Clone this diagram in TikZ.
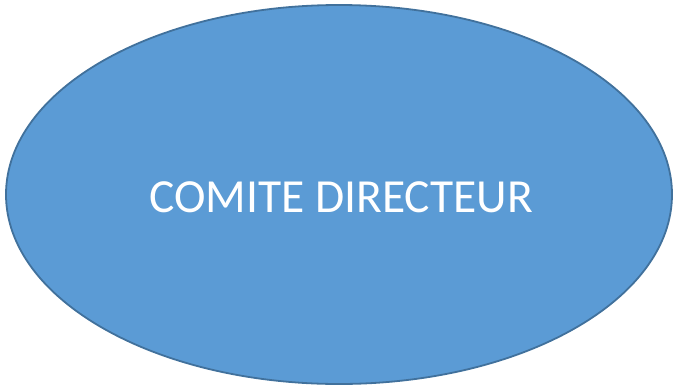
\documentclass[tikz,border=0pt]{standalone}
\usepackage{fontspec}
\setmainfont{Carlito}
\usetikzlibrary{shapes.geometric}
\definecolor{fillblue}{HTML}{5B9BD5}
\definecolor{edgeblue}{HTML}{41719C}
\tikzset{
  bubble/.style={ellipse, draw=edgeblue, line width=1.8pt, fill=fillblue, inner sep=0pt},
  bubbletext/.style={text=white, font=\fontsize{47.5}{57}\selectfont, inner sep=0pt, anchor=base}
}
\begin{document}
\begin{tikzpicture}[x=1pt,y=-1pt]
\useasboundingbox (0,0) rectangle (676,386);
\node[bubble, minimum width=666pt, minimum height=379pt] (ellipse) at (339,194.5) {};
\node[bubbletext] (label) at (341,212) {COMITE DIRECTEUR};
\end{tikzpicture}
\end{document}
